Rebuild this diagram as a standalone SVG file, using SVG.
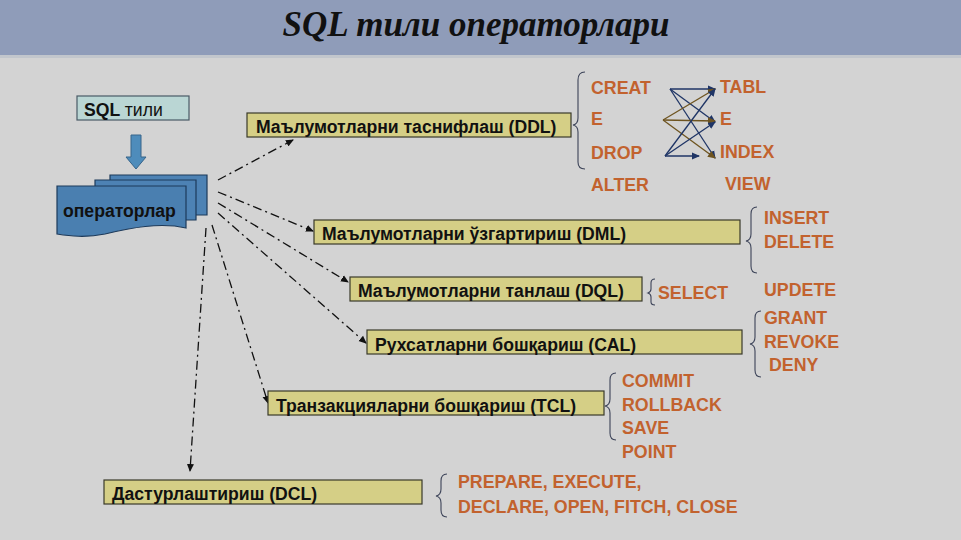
<svg xmlns="http://www.w3.org/2000/svg" width="961" height="540" viewBox="0 0 961 540">
<defs>
<style>
.box{fill:#d5cf86;stroke:#3a3a2a;stroke-width:1.2}
.bt{font-family:"Liberation Sans",Arial,sans-serif;font-weight:bold;font-size:17.6px;fill:#111}
.ot{font-family:"Liberation Sans",Arial,sans-serif;font-weight:bold;font-size:17.8px;fill:#c2622e}
.br{fill:none;stroke:#3c4358;stroke-width:1.1}
.con{fill:none;stroke:#111;stroke-width:1.3;stroke-dasharray:9 4 2 4}
.xn{stroke:#1f3566;stroke-width:1.3;fill:none}
.xb{stroke:#6e5420;stroke-width:1.3;fill:none}
</style>
<marker id="ah" markerWidth="8" markerHeight="8" refX="7" refY="4" orient="auto" markerUnits="userSpaceOnUse">
<path d="M0,0.5 L8,4 L0,7.5 Z" fill="#111"/>
</marker>
<marker id="an" markerWidth="8" markerHeight="8" refX="7" refY="4" orient="auto" markerUnits="userSpaceOnUse">
<path d="M0,0.5 L8,4 L0,7.5 Z" fill="#1f3566"/>
</marker>
<marker id="ab" markerWidth="8" markerHeight="8" refX="7" refY="4" orient="auto" markerUnits="userSpaceOnUse">
<path d="M0,0.5 L8,4 L0,7.5 Z" fill="#6e5420"/>
</marker>
</defs>
<rect x="0" y="0" width="961" height="540" fill="#d3d3d3"/>
<rect x="0" y="0" width="961" height="55" fill="#8f9cb9"/>
<rect x="0" y="55" width="961" height="3" fill="#c2c6cc"/>
<text x="476" y="36" text-anchor="middle" font-family="'Liberation Serif','Times New Roman',serif" font-style="italic" font-weight="bold" font-size="35" fill="#111">SQL тили операторлари</text>

<g id="sql">
<rect x="77" y="96" width="112" height="24" fill="#bad6d4" stroke="#4a5a66" stroke-width="1.2"/>
<text x="84" y="116" class="bt" font-size="18">SQL  <tspan font-weight="normal">тили</tspan></text>
</g>
<g id="arrow-down">
<path d="M131,135 L141,135 L141,157 L146,157 L136,169 L126,157 L131,157 Z" fill="#4e8cbb" stroke="#36648a" stroke-width="1"/>
</g>
<g id="operators">
<path d="M110,175 L207,175 L207,215 L110,215 Z" fill="#4d82b4" stroke="#1d3a5a" stroke-width="1.2"/>
<path d="M95,180 L196,180 L196,220 L95,220 Z" fill="#4d82b4" stroke="#1d3a5a" stroke-width="1.2"/>
<path d="M57,186 L186,186 L186,228 C160,222 130,228 105,234 C85,238 70,236 57,234 Z" fill="#4a7fb0" stroke="#1d3a5a" stroke-width="1.2"/>
<text x="63" y="217" class="bt" font-size="18.5">операторлар</text>
</g>

<g id="connectors">
<line class="con" x1="218" y1="180" x2="293" y2="140" marker-end="url(#ah)"/>
<line class="con" x1="218" y1="192" x2="313" y2="231" marker-end="url(#ah)"/>
<line class="con" x1="218" y1="203" x2="348" y2="282" marker-end="url(#ah)"/>
<line class="con" x1="218" y1="213" x2="366" y2="343" marker-end="url(#ah)"/>
<line class="con" x1="212" y1="225" x2="268" y2="403" marker-end="url(#ah)"/>
<line class="con" x1="206" y1="228" x2="190" y2="471" marker-end="url(#ah)"/>
<line class="xn" x1="670" y1="89" x2="715" y2="89" marker-end="url(#an)"/>
<line class="xn" x1="670" y1="89" x2="715" y2="122" marker-end="url(#an)"/>
<line class="xn" x1="670" y1="89" x2="715" y2="158" marker-end="url(#an)"/>
<line class="xb" x1="663" y1="120" x2="715" y2="89" marker-end="url(#ab)"/>
<line class="xb" x1="663" y1="120" x2="715" y2="121" marker-end="url(#ab)"/>
<line class="xb" x1="663" y1="120" x2="715" y2="158" marker-end="url(#ab)"/>
<line class="xn" x1="665" y1="156" x2="715" y2="89" marker-end="url(#an)"/>
<line class="xn" x1="665" y1="156" x2="715" y2="122" marker-end="url(#an)"/>
<line class="xn" x1="665" y1="156" x2="699" y2="156" marker-end="url(#an)"/>
</g>

<g id="ddl">
<rect class="box" x="247" y="113" width="324" height="24"/>
<text class="bt" x="256" y="133">Маълумотларни таснифлаш (DDL)</text>
<path class="br" d="M585,72 Q578,72 578,80 L578,118 Q578,124 573,125 Q578,126 578,132 L578,162 Q578,169 585,169"/>
<text class="ot" x="591" y="94">CREAT</text>
<text class="ot" x="591" y="125">E</text>
<text class="ot" x="591" y="159">DROP</text>
<text class="ot" x="591" y="191">ALTER</text>
<text class="ot" x="720" y="93">TABL</text>
<text class="ot" x="720" y="125">E</text>
<text class="ot" x="720" y="158">INDEX</text>
<text class="ot" x="725" y="190">VIEW</text>
</g>
<g id="dml">
<rect class="box" x="314" y="220" width="426" height="24"/>
<text class="bt" x="322" y="240">Маълумотларни ўзгартириш (DML)</text>
<path class="br" d="M757,207 Q751,207 751,214 L751,234 Q751,240 746,241 Q751,242 751,248 L751,266 Q751,273 757,273"/>
<text class="ot" x="764" y="224">INSERT</text>
<text class="ot" x="764" y="248">DELETE</text>
<text class="ot" x="764" y="296">UPDETE</text>
</g>
<g id="dql">
<rect class="box" x="350" y="277" width="292" height="24"/>
<text class="bt" x="358" y="297">Маълумотларни танлаш (DQL)</text>
<path class="br" d="M655,279 Q651,279 651,283 L651,289 Q651,292 648,293 Q651,294 651,297 L651,302 Q651,305 655,305"/>
<text class="ot" x="658" y="299">SELECT</text>
</g>
<g id="cal">
<rect class="box" x="367" y="330" width="375" height="24"/>
<text class="bt" x="375" y="351">Рухсатларни бошқариш (CAL)</text>
<path class="br" d="M761,311 Q755,311 755,318 L755,337 Q755,343 750,344 Q755,345 755,351 L755,370 Q755,377 761,377"/>
<text class="ot" x="764" y="324">GRANT</text>
<text class="ot" x="764" y="348">REVOKE</text>
<text class="ot" x="769" y="371">DENY</text>
</g>
<g id="tcl">
<rect class="box" x="268" y="391" width="336" height="24"/>
<text class="bt" x="276" y="412">Транзакцияларни бошқариш (TCL)</text>
<path class="br" d="M616,373 Q610,373 610,380 L610,399 Q610,405 605,406 Q610,407 610,413 L610,433 Q610,440 616,440"/>
<text class="ot" x="622" y="387">COMMIT</text>
<text class="ot" x="622" y="411">ROLLBACK</text>
<text class="ot" x="622" y="434">SAVE</text>
<text class="ot" x="622" y="458">POINT</text>
</g>
<g id="dcl">
<rect class="box" x="104" y="480" width="318" height="24"/>
<text class="bt" x="112" y="500">Дастурлаштириш (DCL)</text>
<path class="br" d="M447,474 Q441,474 441,481 L441,489 Q441,495 436,496 Q441,497 441,503 L441,510 Q441,517 447,517"/>
<text class="ot" x="458" y="488">PREPARE, EXECUTE,</text>
<text class="ot" x="458" y="513">DECLARE, OPEN, FITCH, CLOSE</text>
</g>
</svg>
